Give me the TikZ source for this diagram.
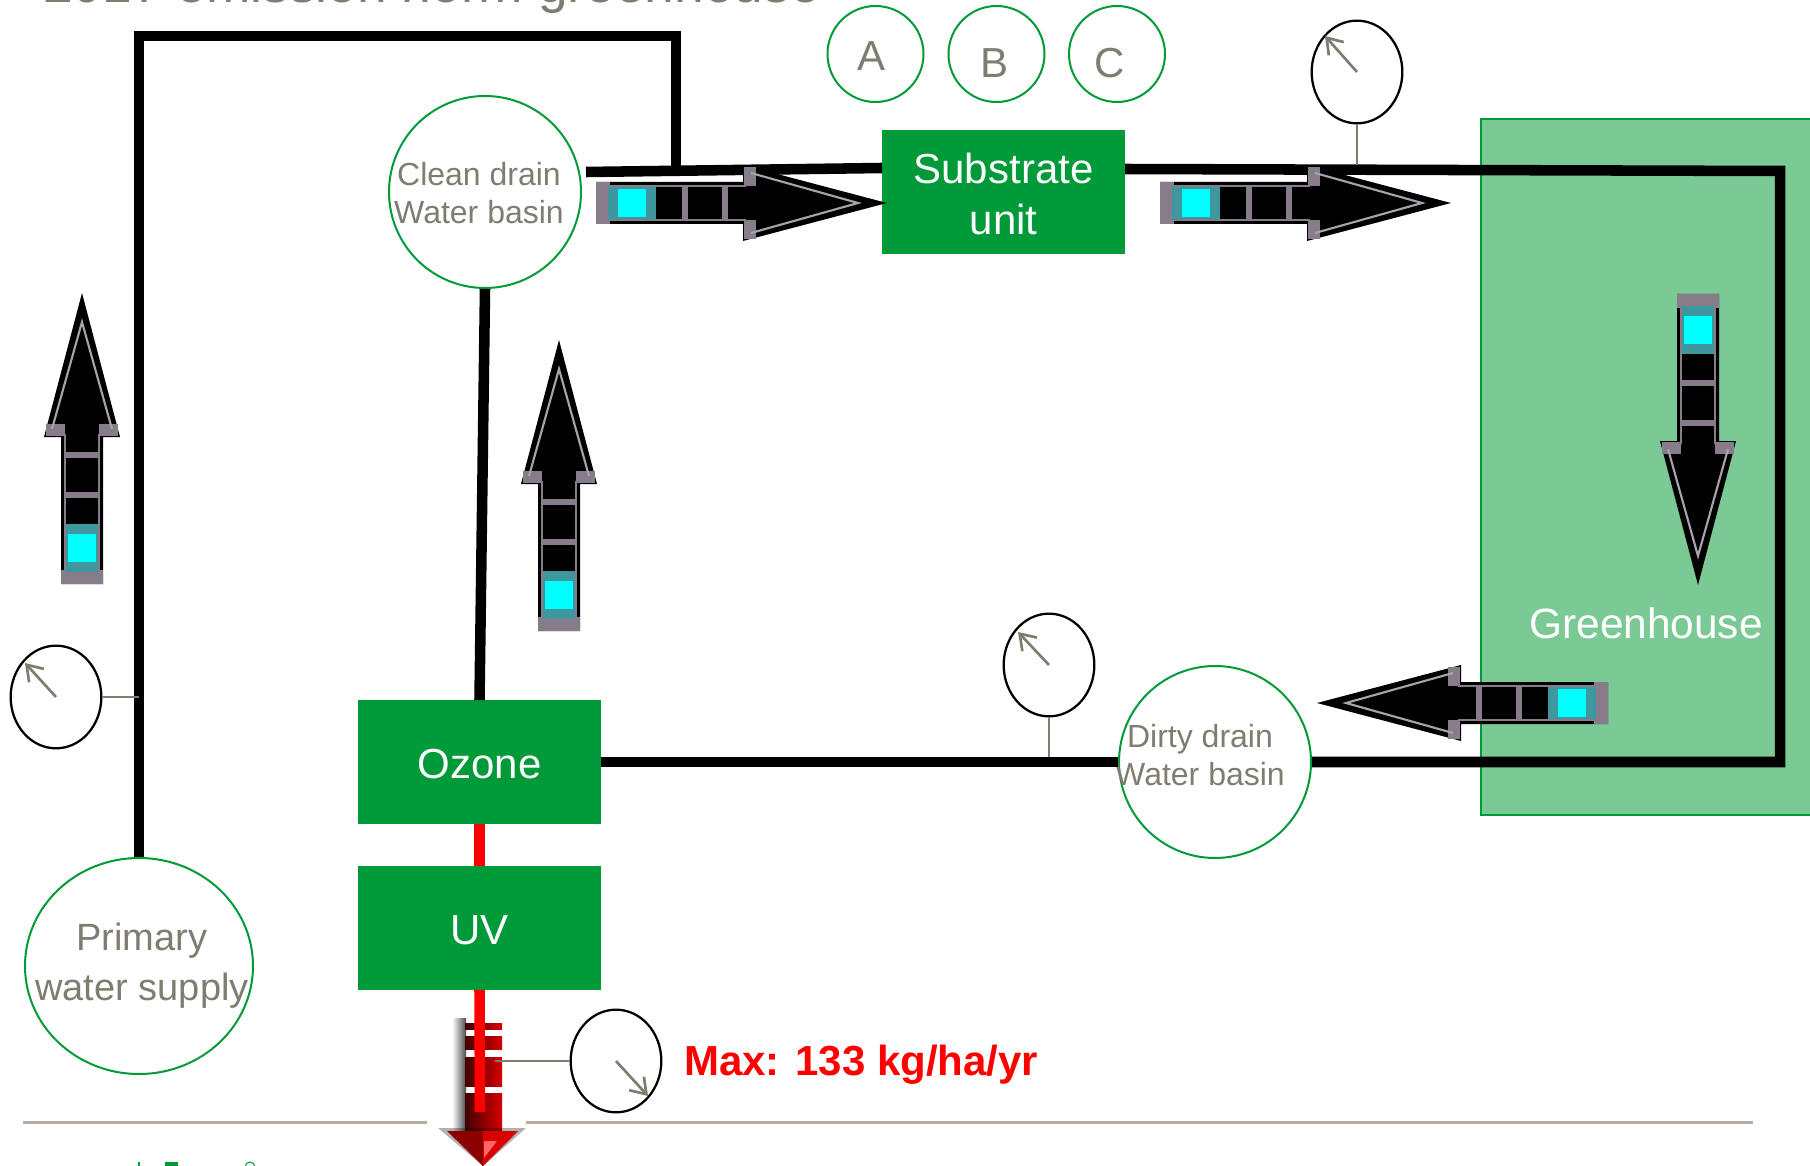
\documentclass[tikz,border=0pt]{standalone}
\usepackage{fontspec}
\setmainfont{Liberation Sans}
\usetikzlibrary{shapes.geometric, arrows.meta}

\definecolor{boxgreen}{HTML}{009A38}
\definecolor{housegreen}{HTML}{7BC995}
\definecolor{labelgray}{HTML}{7F7C70}
\definecolor{rulegray}{HTML}{B8AFA0}
\definecolor{tubegray}{HTML}{877D8A}
\definecolor{headgray}{HTML}{A8A2AC}
\definecolor{halocyan}{HTML}{3E969E}
\definecolor{flowcyan}{HTML}{00FFFF}
\definecolor{pipered}{HTML}{FF0000}

\newcommand{\pxfont}[1]{\fontsize{#1}{#1}\selectfont}

\tikzset{
  pipe/.style={line width=7.9pt, line cap=butt, line join=miter},
  redpipe/.style={pipe, draw=pipered},
  unitbox/.style={rectangle, fill=boxgreen, text=white, minimum width=182pt, minimum height=92.5pt,
    inner sep=0pt, align=center, font=\pxfont{31.5pt}},
  basin/.style={ellipse, draw=boxgreen, line width=1.5pt, inner sep=0pt},
  gauge/.style={ellipse, draw=black, line width=1.7pt, minimum width=68pt, minimum height=77pt, inner sep=0pt},
  needle/.style={-{Straight Barb[length=11pt, width=15pt, line width=2pt]}, draw=labelgray, line width=2pt},
  stem/.style={draw=labelgray, line width=1.5pt},
  graytext/.style={text=labelgray, align=center, inner sep=0pt},
  pics/flowarrow/.style={code={
    \fill[black] (0,-21) -- (147,-21) -- (147,-38) -- (291,0) -- (147,38) -- (147,21) -- (0,21) -- cycle;
    \draw[tubegray, line width=2.2pt] (150,-17) -- (0,-17);
    \draw[tubegray, line width=2.2pt] (150,17) -- (0,17);
    \fill[tubegray] (148,-36) rectangle (160,-17);
    \fill[tubegray] (148,17) rectangle (160,36);
    \draw[headgray, line width=1.6pt, line join=miter] (155,-30) -- (262,0) -- (155,30);
    \fill[tubegray] (0,-21) rectangle (14,21);
    \fill[halocyan] (12,-16) rectangle (60,16);
    \fill[flowcyan] (22,-14) rectangle (50,14);
    \foreach \xbar in {89,129} {
      \fill[tubegray] (\xbar-3,-16) rectangle (\xbar+3,16);
    }
  }},
}

\begin{document}
\begin{tikzpicture}[x=0.75pt, y=-0.75pt]
  \useasboundingbox (0,0) rectangle (1810,1166);

  %% --- title, cut by the page edge ---
  \node[graytext, anchor=base west, font=\pxfont{40pt}] (title) at (43,3) {2017 emission norm greenhouse};

  %% --- greenhouse ---
  \fill[housegreen] (1481,119) rectangle (1810,815);
  \draw[boxgreen, line width=1.5pt] (1810,119) -- (1481,119) -- (1481,815) -- (1810,815);
  \node[text=white, anchor=base, inner sep=0pt, font=\pxfont{31.8pt}] (greenhouse) at (1646,638) {Greenhouse};

  %% --- bottom rule and the cut logo ---
  \draw[rulegray, line width=2.2pt] (23,1122.5) -- (427,1122.5);
  \draw[rulegray, line width=2.2pt] (526,1122.5) -- (1753,1122.5);
  \fill[boxgreen] (138,1162) rectangle (140,1166);
  \fill[boxgreen] (165,1162) rectangle (178,1166);
  \draw[boxgreen, line width=0.8pt] (250,1167) circle (5);

  %% --- units ---
  \node[unitbox] (substrate) at (1003.5,192) {\rule{0pt}{25.5pt}Substrate\\[7pt]unit};
  \node[unitbox] (ozone) at (479.5,762) {\rule{0pt}{25pt}Ozone};
  \node[unitbox] (uv) at (479.5,928) {\rule{0pt}{25pt}UV};

  %% --- basins ---
  \node[basin, minimum width=144pt, minimum height=144pt] (clean) at (485,192) {};
  \node[graytext, font=\pxfont{24pt}] (cleanlabel) at (479,193) {Clean drain\\[4.5pt]Water basin};
  \node[basin, minimum width=144pt, minimum height=144pt] (dirty) at (1215,762) {};
  \node[graytext, font=\pxfont{24pt}] (dirtylabel) at (1200,755) {Dirty drain\\[4.5pt]Water basin};
  \node[basin, minimum width=171pt, minimum height=162pt] (primary) at (139,966) {};
  \node[graytext, font=\pxfont{28.5pt}] (primarylabel) at (142,966) {Primary\\[9pt]water supply};

  %% A B C
  \foreach \id/\xpos/\xtxt/\ytxt in {A/875.5/871/56, B/996.5/994/63, C/1117/1110/63} {
    \node[basin, minimum width=72pt, minimum height=72pt] (valve\id) at (\xpos,54) {};
    \node[graytext, font=\pxfont{31.5pt}] (valvelabel\id) at (\xtxt,\ytxt) {\id};
  }

  %% --- pipes ---
  \coordinate (feedtop) at (139,36);
  \coordinate (feedcorner) at (676,36);
  \coordinate (feedjoin) at (676,170);
  \coordinate (cleanout) at (586,172);
  \coordinate (substratein) at (882,168);
  \coordinate (substrateout) at (1125,169);
  \coordinate (housetop) at (1780,171);
  \coordinate (housebottom) at (1780,762);
  \coordinate (redend) at (480,1112);

  \draw[pipe] (primary.north) -- (feedtop) -- (feedcorner) -- (feedjoin);
  \draw[pipe] (cleanout) -- (substratein);
  \draw[pipe] (substrateout) -- (housetop) -- (housebottom) -- (dirty.east);
  \draw[pipe] (dirty.west) -- (ozone.east);
  \draw[pipe] (ozone.north) -- (clean.south);

  %% --- flow arrows ---
  \pic at (596,203) {flowarrow};
  \pic at (1160,203) {flowarrow};
  \pic[rotate=-90] at (1698,294) {flowarrow};
  \pic[rotate=180] at (1608,703) {flowarrow};
  \pic[rotate=90] at (559,631) {flowarrow};
  \pic[rotate=90] at (82,584) {flowarrow};

  %% --- red outlet arrow ---
  \foreach \ytop/\ybot in {1023/1029, 1036/1049, 1057/1086, 1093/1132} {
    \shade[left color=white, right color=black!70] (452,\ytop-5) rectangle (466,\ybot+3);
    \shade[left color=black!75!pipered, right color=pipered!85!black] (465,\ytop) rectangle (502,\ybot);
  }
  \fill[black, opacity=0.3] (438,1128) -- (526,1128) -- (483,1166) -- cycle;
  \fill[black!45!pipered] (447,1131) -- (483,1131) -- (483,1166) -- cycle;
  \fill[pipered!85!black] (483,1131) -- (518,1131) -- (483,1166) -- cycle;
  \fill[pipered!60!white] (484,1141) -- (497,1141) -- (484,1158) -- cycle;

  \draw[redpipe] (ozone.south) -- (uv.north);
  \draw[redpipe] (uv.south) -- (redend);

  %% --- gauges ---
  \node[gauge] (gaugeleft) at (56,697) {};
  \node[gauge] (gaugetop) at (1357,72) {};
  \node[gauge] (gaugedirty) at (1049,665) {};
  \node[gauge] (gaugeout) at (616,1061) {};

  \coordinate (tapleft) at (139,697);
  \coordinate (taptop) at (1357,165);
  \coordinate (tapdirty) at (1049,757);
  \coordinate (tapout) at (495,1061);

  \draw[stem] (gaugeleft) -- (tapleft);
  \draw[stem] (gaugetop) -- (taptop);
  \draw[stem] (gaugedirty) -- (tapdirty);
  \draw[stem] (gaugeout) -- (tapout);

  \coordinate (tipleft) at (25,663);
  \coordinate (tiptop) at (1325,36);
  \coordinate (tipdirty) at (1018,632);
  \coordinate (tipout) at (648,1096);

  \draw[needle] (gaugeleft.center) -- (tipleft);
  \draw[needle] (gaugetop.center) -- (tiptop);
  \draw[needle] (gaugedirty.center) -- (tipdirty);
  \draw[needle] (gaugeout.center) -- (tipout);

  \node[text=pipered, anchor=base west, inner sep=0pt, font=\pxfont{31.5pt}\bfseries] (maxload) at (684,1075) {Max: 133 kg/ha/yr};
\end{tikzpicture}
\end{document}
